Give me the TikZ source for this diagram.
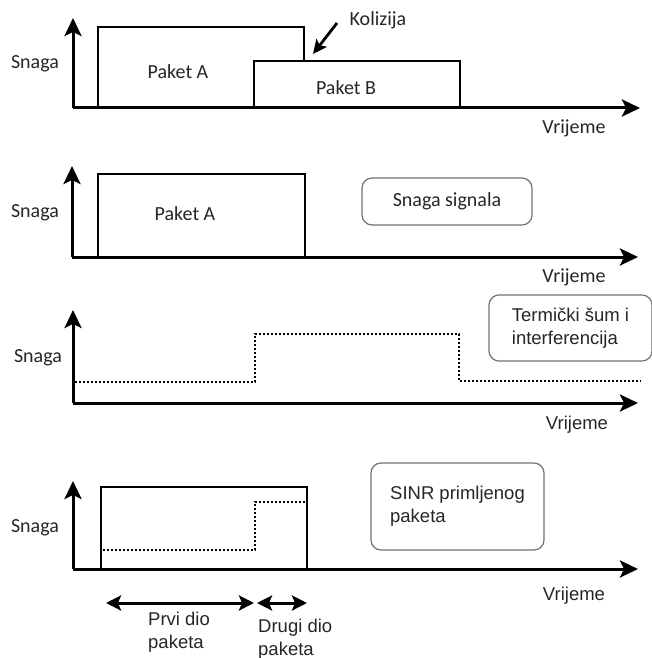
\documentclass[tikz,border=0pt]{standalone}
\usepackage{fontspec}
\setmainfont{Carlito}
\newfontfamily\arialf{Liberation Sans}
\usetikzlibrary{arrows.meta}
\definecolor{txt}{HTML}{262626}
\begin{document}
\begin{tikzpicture}[x=1pt,y=-1pt,
  axis/.style={line width=3pt,-{Stealth[length=18pt,width=17pt,inset=4pt]}},
  pk/.style={line width=2.8pt},
  dots/.style={line width=2.6pt,dash pattern=on 2pt off 2pt},
  lbl/.style={font=\fontsize{20}{24}\selectfont,text=txt,inner sep=0pt},
  albl/.style={font=\arialf\fontsize{18.5}{23}\selectfont,text=txt,inner sep=0pt,align=left},
  legend/.style={draw=black!55,line width=1.2pt,rounded corners=10pt,fill=white},
  kolarrow/.style={line width=2.8pt,-{Stealth[length=14pt,width=13pt,inset=3pt]}},
  dbl/.style={line width=3pt,{Stealth[length=15pt,width=15pt,inset=3pt]}-{Stealth[length=15pt,width=15pt,inset=3pt]}}
]
\fill[white] (0,0) rectangle (652,658);
\useasboundingbox (0,0) rectangle (652,658);

% ---------- panel 1 ----------
\coordinate (o1) at (73,108);
\coordinate (y1) at (73,18);
\coordinate (x1) at (640,108);
\draw[pk] (98,108) -- (98,27) -- (304,27) -- (304,61);
\draw[pk] (254,108) -- (254,61) -- (460,61) -- (460,108);
\draw[axis] (o1) -- (y1);
\draw[axis] (o1) -- (x1);
\node[lbl] (snaga1) at (35,64) {Snaga};
\node[lbl] (pa1) at (178,72) {Paket A};
\node[lbl] (pb1) at (346,88) {Paket B};
\node[lbl] (kol) at (378,20) {Kolizija};
\node[lbl] (vr1) at (574,128) {Vrijeme};
\coordinate (kolS) at (337,23);
\coordinate (kolE) at (313,54);
\draw[kolarrow] (kolS) -- (kolE);

% ---------- panel 2 ----------
\coordinate (o2) at (72,257);
\coordinate (y2) at (72,166);
\coordinate (x2) at (638,257);
\draw[pk] (98,257) -- (98,174) -- (305,174) -- (305,257);
\draw[axis] (o2) -- (y2);
\draw[axis] (o2) -- (x2);
\node[lbl] (snaga2) at (35,213) {Snaga};
\node[lbl] (pa2) at (185,214) {Paket A};
\node[lbl,legend,minimum width=170pt,minimum height=47pt] (sig) at (447,201.5) {Snaga signala};
\node[lbl] (vr2) at (574,277) {Vrijeme};

% ---------- panel 3 ----------
\coordinate (o3) at (73,403);
\coordinate (y3) at (73,310);
\coordinate (x3) at (638,403);
\draw[dots] (75,382) -- (255,382) -- (255,334) -- (459,334) -- (459,381) -- (641,381);
\draw[axis] (o3) -- (y3);
\draw[axis] (o3) -- (x3);
\node[lbl] (snaga3) at (38,358) {Snaga};
\node[albl,legend,minimum width=163pt,minimum height=66pt] (noise) at (570.5,328) {Termički šum i\\interferencija};
\node[albl] (vr3) at (577,425) {Vrijeme};

% ---------- panel 4 ----------
\coordinate (o4) at (73,569);
\coordinate (y4) at (73,481);
\coordinate (x4) at (638,569);
\draw[pk] (101,569) -- (101,487) -- (307,487) -- (307,569);
\draw[dots] (103,550) -- (255,550) -- (255,502) -- (305,502);
\draw[axis] (o4) -- (y4);
\draw[axis] (o4) -- (x4);
\node[lbl] (snaga4) at (35,528) {Snaga};
\node[albl,legend,minimum width=173pt,minimum height=87pt] (sinr) at (457.5,506.5) {SINR primljenog\\paketa};
\node[albl] (vr4) at (574,596) {Vrijeme};
\coordinate (a1L) at (106,603);
\coordinate (a1R) at (254,603);
\coordinate (a2L) at (257,603);
\coordinate (a2R) at (307,603);
\draw[dbl] (a1L) -- (a1R);
\draw[dbl] (a2L) -- (a2R);
\node[albl,anchor=west] (prvi) at (148,632) {Prvi dio\\paketa};
\node[albl,anchor=west] (drugi) at (258,639) {Drugi dio\\paketa};
\end{tikzpicture}
\end{document}
